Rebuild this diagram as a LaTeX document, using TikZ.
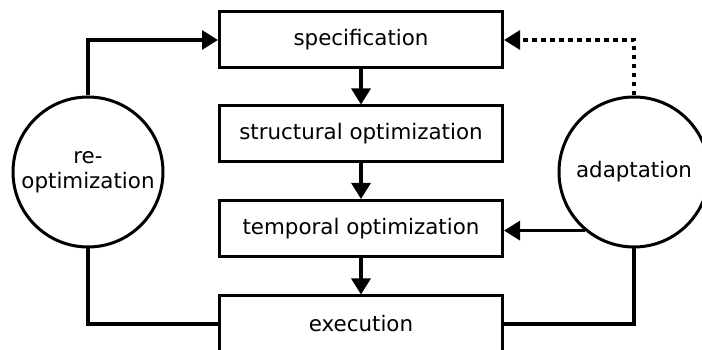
\documentclass[tikz,border=0pt]{standalone}
\usepackage{fontspec}
\setmainfont{DejaVu Sans}
\usetikzlibrary{arrows.meta}
\tikzset{flow/.style={line width=3.2pt, -{Triangle[length=16pt,width=19pt]}}}
\tikzset{link/.style={line width=3.2pt}}
\tikzset{outside/.style={line width=3.2pt, dash pattern=on 4.5pt off 4.5pt}}

\begin{document}
\begin{tikzpicture}[x=1pt, y=1pt]
	% Default action for each node
	\tikzset{every node/.style={draw, line width=3pt, font=\fontsize{21.4}{25}\selectfont}};
	\tikzset{stage/.style={rectangle, minimum width=283pt, minimum height=56pt}};
	\tikzset{loop/.style={circle, minimum size=150pt, inner sep=0pt, align=center}};

	\useasboundingbox (0,0) rectangle (702,350);

	\node[stage] (spec) at (361,310) {specification};
	\node[stage] (struct) at (361,216) {structural optimization};
	\node[stage] (temp) at (361,121.5) {temporal optimization};
	\node[stage] (exec) at (361,26) {execution};

	\node[loop] (reopt) at (88,178) {re-\\optimization};
	\node[loop] (adapt) at (634,178) {adaptation};

	\coordinate (reoptup) at (88,310);		\coordinate (adaptup) at (634,310);
	\coordinate (reoptdown) at (88,26);	\coordinate (adaptdown) at (634,26);

	\draw[flow] (spec) -- (struct);
	\draw[flow] (struct) -- (temp);
	\draw[flow] (temp) -- (exec);

	\draw[flow] (reopt) -- (reoptup) -- (spec);
	\draw[link] (reopt) -- (reoptdown) -- (exec);

	\draw[outside, -{Triangle[length=16pt,width=19pt]}] (adapt) -- (adaptup) -- (spec);
	\draw[flow] (adapt.230) -- (adapt.230 -| temp.east);
	\draw[link] (adapt) -- (adaptdown) -- (exec);

\end{tikzpicture}
\end{document}
